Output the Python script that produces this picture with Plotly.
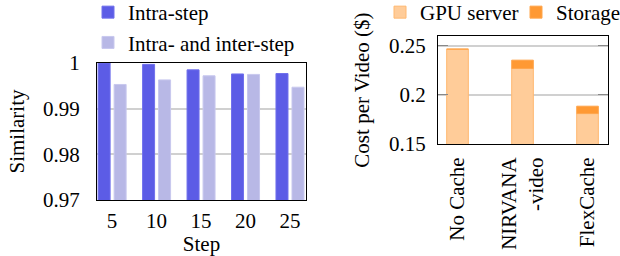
import plotly.graph_objects as go

# ---- data ----
steps = ["5", "10", "15", "20", "25"]
intra_step = [1.0, 0.9997, 0.9985, 0.9976, 0.9977]
intra_inter_step = [0.9953, 0.9963, 0.9972, 0.9975, 0.9947]

systems = ["No Cache", "NIRVANA<br>-video", "FlexCache"]
gpu_server = [0.2466, 0.2269, 0.1810]
storage = [0.0, 0.0085, 0.0075]

sim_ticks = [0.97, 0.98, 0.99, 1.0]
sim_ticktext = ["0.97", "0.98", "0.99", "1"]
cost_ticks = [0.15, 0.2, 0.25]
cost_ticktext = ["0.15", "0.2", "0.25"]

W, H = 620, 256
FONT = "Liberation Serif"
FS = 21

def px_x(p):
    return p / W

def px_y(p):
    return 1 - p / H

fig = go.Figure()

fig.add_trace(go.Bar(
    x=steps, y=intra_step, name="Intra-step",
    marker=dict(color="#5C5CE6", line=dict(color="#7070EC", width=1)),
    width=0.27, offset=-0.315, xaxis="x", yaxis="y", legend="legend",
))
fig.add_trace(go.Bar(
    x=steps, y=intra_inter_step, name="Intra- and inter-step",
    marker=dict(color="#B8B8E6", line=dict(color="#C8C8EE", width=1)),
    width=0.27, offset=0.045, xaxis="x", yaxis="y", legend="legend",
))

fig.add_trace(go.Bar(
    x=systems, y=gpu_server, name="GPU server",
    marker=dict(color="#FFCC99", line=dict(color="#FFB870", width=1)),
    width=0.333, xaxis="x2", yaxis="y2", legend="legend2",
))
fig.add_trace(go.Bar(
    x=systems, y=storage, base=gpu_server, name="Storage",
    marker=dict(color="#FF9933", line=dict(color="#FFA64D", width=1)),
    width=0.333, xaxis="x2", yaxis="y2", legend="legend3",
))

tf = dict(family=FONT, size=FS, color="black")
axis_common = dict(showline=True, linecolor="black", linewidth=1, tickfont=tf)
leg_common = dict(yanchor="top", xanchor="left", bgcolor="rgba(0,0,0,0)", font=tf,
                  traceorder="normal")
LEG_Y = px_y(-8)

fig.update_layout(
    width=W, height=H,
    margin=dict(l=0, r=0, t=0, b=0, autoexpand=False),
    paper_bgcolor="white", plot_bgcolor="white",
    barmode="overlay",
    font=dict(family=FONT, size=FS, color="black"),
    xaxis=dict(domain=[px_x(97), px_x(306)], type="category", range=[-0.34, 4.36],
               ticks="outside", ticklen=2, tickcolor="rgba(0,0,0,0)", mirror=True,
               title=dict(text="Step", font=tf, standoff=5),
               anchor="y", **axis_common),
    yaxis=dict(domain=[px_y(200), px_y(63)], range=[0.97, 1.0],
               tickvals=sim_ticks, ticktext=sim_ticktext, mirror=True,
               ticks="outside", ticklen=12, tickcolor="rgba(0,0,0,0)",
               showgrid=True, gridcolor="#D0D0D0", gridwidth=1.5,
               title=dict(text="Similarity", font=tf, standoff=12),
               anchor="x", **axis_common),
    xaxis2=dict(domain=[px_x(438), px_x(608)], type="category", range=[-0.3, 2.315],
                tickangle=-90, ticks="outside", ticklen=4, tickcolor="rgba(0,0,0,0)",
                mirror=True, anchor="y2", **axis_common),
    yaxis2=dict(domain=[px_y(144), px_y(36)], range=[0.15, 0.26],
                tickvals=cost_ticks, ticktext=cost_ticktext, mirror="ticks",
                ticks="inside", ticklen=10, tickcolor="#888888", ticklabelstandoff=7,
                showgrid=True, gridcolor="#D0D0D0", gridwidth=1.5,
                title=dict(text="Cost per Video ($)", font=tf, standoff=13),
                anchor="x2", **axis_common),
    legend=dict(x=px_x(88), y=LEG_Y, tracegroupgap=0, **leg_common),
    legend2=dict(x=px_x(380), y=LEG_Y, **leg_common),
    legend3=dict(x=px_x(516), y=LEG_Y, **leg_common),
    showlegend=True,
)

fig.write_html("out.html", config={"displayModeBar": False},
               post_script="document.body.style.margin='0px';")
